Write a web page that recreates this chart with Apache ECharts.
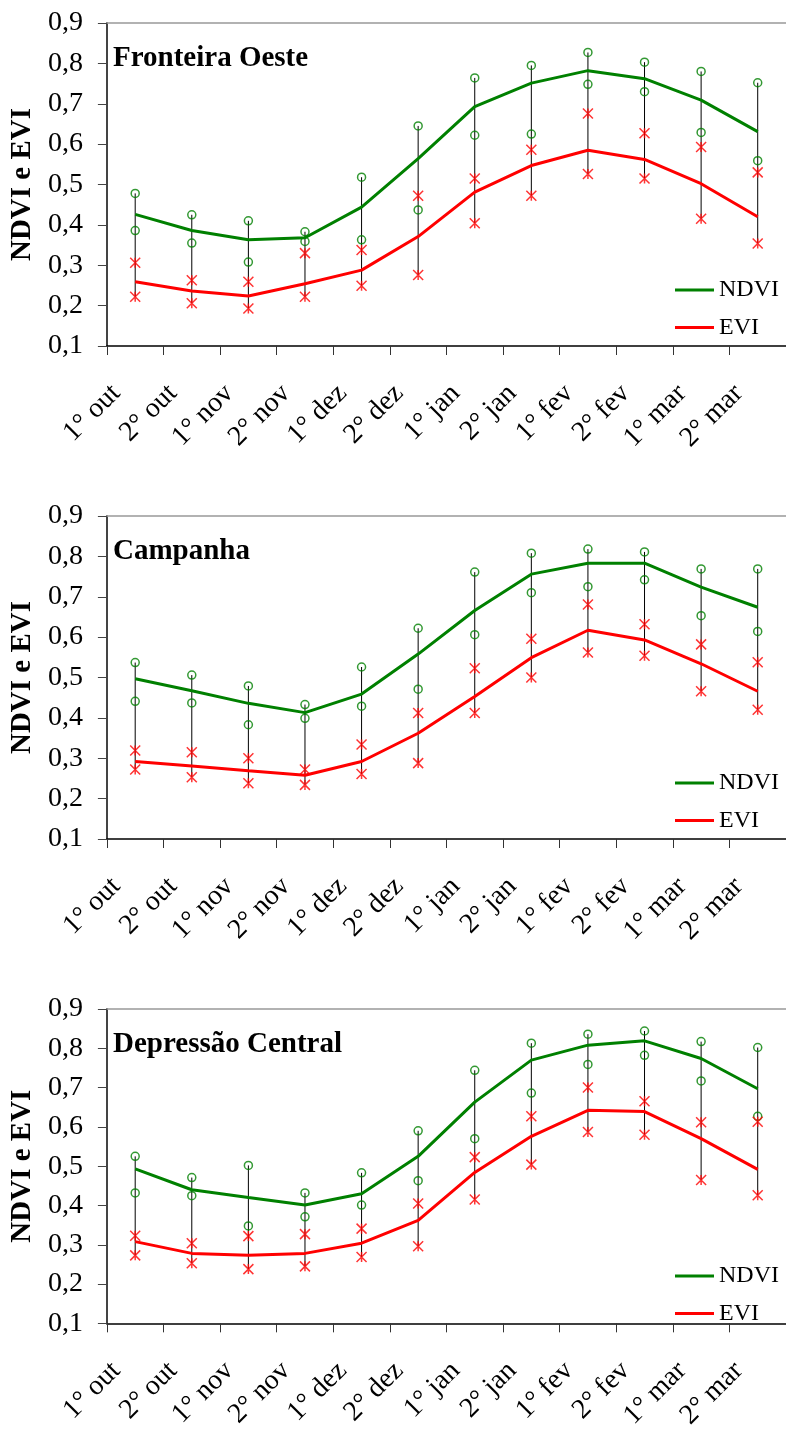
<!DOCTYPE html>
<html>
<head>
<meta charset="utf-8">
<script src="https://cdn.jsdelivr.net/npm/echarts@6/dist/echarts.min.js"></script>
<style>
  html, body { margin: 0; padding: 0; background: #fff; }
  #chart { width: 786px; height: 1432px; }
</style>
</head>
<body>
<div id="chart"></div>
<script>
// Fortnights of the growing season
const categories = ['1° out', '2° out', '1° nov', '2° nov', '1° dez', '2° dez',
                    '1° jan', '2° jan', '1° fev', '2° fev', '1° mar', '2° mar'];
const yTicks = [0.1, 0.2, 0.3, 0.4, 0.5, 0.6, 0.7, 0.8, 0.9];

// Fronteira Oeste
const foNdvi    = [0.426, 0.386, 0.363, 0.368, 0.444, 0.564, 0.693, 0.751, 0.782, 0.762, 0.709, 0.631];
const foNdviMax = [0.478, 0.425, 0.410, 0.383, 0.518, 0.645, 0.764, 0.795, 0.827, 0.803, 0.780, 0.752];
const foNdviMin = [0.386, 0.355, 0.308, 0.359, 0.363, 0.437, 0.622, 0.625, 0.748, 0.730, 0.629, 0.559];
const foEvi     = [0.259, 0.236, 0.224, 0.254, 0.288, 0.371, 0.481, 0.547, 0.585, 0.562, 0.502, 0.420];
const foEviMax  = [0.306, 0.263, 0.259, 0.330, 0.338, 0.472, 0.515, 0.586, 0.676, 0.627, 0.593, 0.530];
const foEviMin  = [0.222, 0.206, 0.193, 0.222, 0.249, 0.276, 0.404, 0.472, 0.526, 0.515, 0.415, 0.354];

// Campanha
const caNdvi    = [0.497, 0.467, 0.436, 0.413, 0.459, 0.558, 0.666, 0.756, 0.783, 0.783, 0.724, 0.674];
const caNdviMax = [0.537, 0.506, 0.479, 0.433, 0.526, 0.622, 0.761, 0.808, 0.818, 0.811, 0.769, 0.769];
const caNdviMin = [0.441, 0.437, 0.383, 0.399, 0.429, 0.471, 0.606, 0.710, 0.725, 0.742, 0.653, 0.614];
const caEvi     = [0.292, 0.281, 0.269, 0.258, 0.292, 0.362, 0.453, 0.549, 0.617, 0.593, 0.534, 0.466];
const caEviMax  = [0.319, 0.315, 0.300, 0.272, 0.334, 0.412, 0.523, 0.596, 0.681, 0.632, 0.582, 0.538];
const caEviMin  = [0.272, 0.253, 0.238, 0.234, 0.261, 0.288, 0.412, 0.500, 0.562, 0.554, 0.466, 0.420];

// Depressão Central
const dcNdvi    = [0.493, 0.440, 0.420, 0.401, 0.430, 0.525, 0.663, 0.770, 0.808, 0.819, 0.774, 0.697];
const dcNdviMax = [0.525, 0.471, 0.502, 0.432, 0.483, 0.590, 0.744, 0.813, 0.836, 0.844, 0.817, 0.802];
const dcNdviMin = [0.432, 0.425, 0.348, 0.371, 0.401, 0.463, 0.570, 0.686, 0.759, 0.782, 0.717, 0.627];
const dcEvi     = [0.308, 0.278, 0.273, 0.278, 0.304, 0.362, 0.484, 0.576, 0.642, 0.639, 0.570, 0.492];
const dcEviMax  = [0.323, 0.304, 0.322, 0.327, 0.341, 0.405, 0.523, 0.627, 0.700, 0.665, 0.612, 0.613];
const dcEviMin  = [0.273, 0.253, 0.238, 0.245, 0.269, 0.296, 0.415, 0.504, 0.587, 0.580, 0.465, 0.426];

const regions = [
  { title: 'Fronteira Oeste',   ndvi: foNdvi, ndviMax: foNdviMax, ndviMin: foNdviMin, evi: foEvi, eviMax: foEviMax, eviMin: foEviMin },
  { title: 'Campanha',          ndvi: caNdvi, ndviMax: caNdviMax, ndviMin: caNdviMin, evi: caEvi, eviMax: caEviMax, eviMin: caEviMin },
  { title: 'Depressão Central', ndvi: dcNdvi, ndviMax: dcNdviMax, ndviMin: dcNdviMin, evi: dcEvi, eviMax: dcEviMax, eviMin: dcEviMin }
];

const FONT = "'Liberation Serif', 'Times New Roman', serif";
const GREEN = '#008000';
const RED = '#FF0000';
const STAR = 'path://M0 0L10 10M10 0L0 10M5 0L5 10';
const gridTops = [23, 516, 1009];
const gridH = 323;

const option = {
  animation: false,
  backgroundColor: '#fff',
  grid: [], xAxis: [], yAxis: [], series: [], legend: [], title: []
};

regions.forEach((r, k) => {
  const top = gridTops[k];
  option.grid.push({ left: 104, top: top, width: 684, height: gridH });

  option.title.push({
    text: r.title, left: 113, top: top + 21, padding: 0,
    textStyle: { fontFamily: FONT, fontWeight: 'bold', fontSize: 29, color: '#000' }
  });

  // category axis at the bottom
  option.xAxis.push({
    type: 'category', gridIndex: k, data: categories, boundaryGap: true,
    axisLine: { lineStyle: { color: '#000', width: 1.5 } },
    axisTick: { show: true, length: 9, inside: false, lineStyle: { color: '#333', width: 1 } },
    axisLabel: {
      rotate: 45, interval: 0, margin: 24, color: '#000',
      fontFamily: FONT, fontSize: 28, padding: [0, 27, 0, 0]
    }
  });
  // plot frame line along the top
  option.xAxis.push({
    type: 'category', gridIndex: k, data: categories, position: 'top',
    axisLine: { lineStyle: { color: '#999', width: 1.5 } },
    axisTick: { show: false }, axisLabel: { show: false }
  });

  option.yAxis.push({
    type: 'value', gridIndex: k, min: 0.1, max: 0.9, interval: 0.1,
    name: 'NDVI e EVI', nameLocation: 'middle', nameGap: 67,
    nameTextStyle: { fontFamily: FONT, fontWeight: 'bold', fontSize: 29, color: '#000' },
    axisLine: { show: true, lineStyle: { color: '#444', width: 2 } },
    axisTick: { show: true, length: 9, lineStyle: { color: '#444', width: 1 } },
    splitLine: { show: false },
    axisLabel: {
      margin: 24, color: '#000', fontFamily: FONT, fontSize: 28,
      formatter: v => v.toFixed(1).replace('.', ',')
    }
  });

  const xi = k * 2;
  const ranges = categories.map((c, i) => [i, r.ndviMax[i], r.eviMin[i]]);

  // vertical span from the NDVI maximum down to the EVI minimum
  option.series.push({
    type: 'custom', name: 'amplitude', xAxisIndex: xi, yAxisIndex: k, z: 1,
    data: ranges, encode: { x: 0, y: [1, 2] },
    renderItem: (params, api) => {
      const p1 = api.coord([api.value(0), api.value(1)]);
      const p2 = api.coord([api.value(0), api.value(2)]);
      return { type: 'line', shape: { x1: p1[0], y1: p1[1], x2: p2[0], y2: p2[1] },
               style: { stroke: '#000', lineWidth: 1 } };
    }
  });

  const ndviMarks = { type: 'scatter', xAxisIndex: xi, yAxisIndex: k, z: 3,
    symbol: 'circle', symbolSize: 8,
    itemStyle: { color: 'rgba(0,0,0,0)', borderColor: GREEN, borderWidth: 1.5 } };
  const eviMarks = { type: 'scatter', xAxisIndex: xi, yAxisIndex: k, z: 3,
    symbol: STAR, symbolSize: 10,
    itemStyle: { color: 'rgba(0,0,0,0)', borderColor: RED, borderWidth: 1.5 } };

  option.series.push(Object.assign({ name: 'NDVI máx', data: r.ndviMax }, ndviMarks));
  option.series.push(Object.assign({ name: 'NDVI mín', data: r.ndviMin }, ndviMarks));
  option.series.push(Object.assign({ name: 'EVI máx', data: r.eviMax }, eviMarks));
  option.series.push(Object.assign({ name: 'EVI mín', data: r.eviMin }, eviMarks));

  option.series.push({
    type: 'line', name: 'NDVI', xAxisIndex: xi, yAxisIndex: k, z: 4,
    data: r.ndvi, symbol: 'none', lineStyle: { color: GREEN, width: 3 }, itemStyle: { color: GREEN }
  });
  option.series.push({
    type: 'line', name: 'EVI', xAxisIndex: xi, yAxisIndex: k, z: 4,
    data: r.evi, symbol: 'none', lineStyle: { color: RED, width: 3 }, itemStyle: { color: RED }
  });

  option.legend.push({
    data: ['NDVI', 'EVI'], orient: 'vertical', left: 675, top: top + 254, padding: 0,
    icon: 'rect', itemWidth: 39, itemHeight: 3, itemGap: 11.5, selectedMode: false,
    textStyle: { fontFamily: FONT, fontSize: 24, color: '#000', lineHeight: 26 }
  });
});

const chart = echarts.init(document.getElementById('chart'), null, { renderer: 'canvas' });
chart.setOption(option);
</script>
</body>
</html>
